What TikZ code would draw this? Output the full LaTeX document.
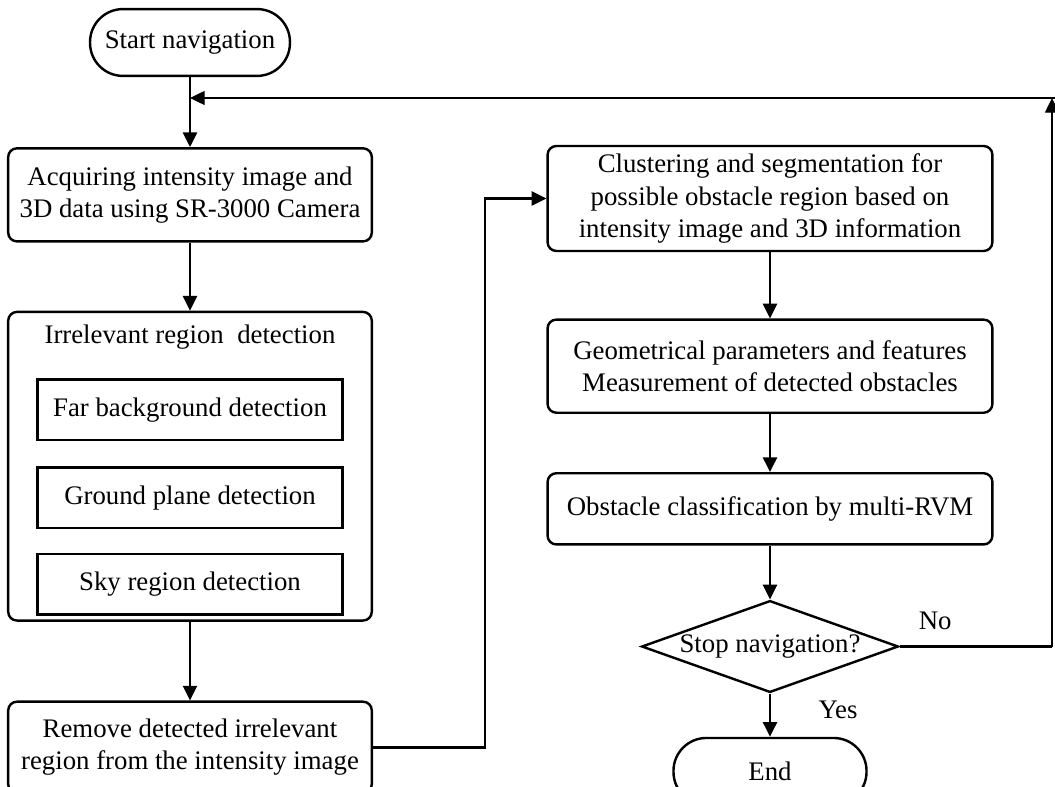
\documentclass[tikz,border=0pt]{standalone}
\usepackage{fontspec}
\setmainfont{Liberation Serif}
\usepackage{tikz}
\usetikzlibrary{positioning, arrows.meta, shapes.geometric}

\begin{document}
\begin{tikzpicture}[
    x=0.016cm, y=-0.016cm,
    font=\fontsize{12.2}{14.6}\selectfont,
    proc/.style={draw, line width=1.1pt, rounded corners=4pt, align=center,
                 minimum width=5.82cm, inner sep=2pt},
    grp/.style={proc, minimum height=4.94cm},
    sub/.style={draw, line width=1.1pt, minimum width=4.88cm, minimum height=0.97cm},
    term/.style={draw, line width=1.1pt, rounded corners=15pt, minimum height=1.07cm},
    dec/.style={draw, line width=1.1pt, diamond, shape aspect=2.8, inner sep=0pt,
                minimum width=4.11cm, minimum height=1.47cm},
    ed/.style={-{Triangle[length=6.7pt, width=6.4pt]}, line width=1.1pt},
    brl/.style={inner sep=0pt},
    hdr/.style={inner sep=0pt}
  ]
  \useasboundingbox (0,0) rectangle (1055,787);
  % ---------------- left column ----------------
  \node[term, minimum width=3.2cm] (start) at (190,42.5) {Start navigation};
  \node[proc, minimum height=1.49cm, below=1.12cm of start] (acq)
    {Acquiring intensity image and\\3D data using SR-3000 Camera};
  \node[grp, below=1.09cm of acq] (irr) {};
  \node[hdr, below=0.22cm of irr.north] (irrT) {Irrelevant region\ \ detection};
  \node[sub, below=0.46cm of irrT] (far) {Far background detection};
  \node[sub, below=0.4cm of far] (ground) {Ground plane detection};
  \node[sub, below=0.37cm of ground] (sky) {Sky region detection};
  \node[proc, minimum height=1.46cm, below=1.26cm of irr] (remove)
    {Remove detected irrelevant\\region from the intensity image};

  % ---------------- right column ----------------
  \node[proc, minimum width=7.12cm, minimum height=1.68cm] (clus) at (770,198.5)
    {Clustering and segmentation for\\possible obstacle region based on\\intensity image and 3D information};
  \node[proc, minimum width=7.12cm, minimum height=1.49cm, below=1.06cm of clus] (geom)
    {Geometrical parameters and features\\Measurement of detected obstacles};
  \node[proc, minimum width=7.12cm, minimum height=1.14cm, below=0.93cm of geom] (obst)
    {Obstacle classification by multi-RVM};
  \node[dec, below=0.86cm of obst] (stop) {Stop navigation?};
  \node[term, minimum width=3.09cm, below=0.69cm of stop] (fin) {End};
  \node[brl, above right=0.26cm and 0.3cm of stop.east] (no) {No};
  \node[brl, below right=0.11cm and 0.77cm of stop.south] (yes) {Yes};

  \coordinate (join) at (190,98);
  \coordinate (bend) at (485,0);
  \coordinate (loopx) at (1052,98);
  \coordinate (loopend) at (1055,98);

  \draw[ed] (start) -- (acq); \draw[ed] (acq) -- (irr);
  \draw[ed] (irr) -- (remove);
  \draw[ed] (remove.east) -- (remove.east -| bend) -- (clus.west -| bend) -- (clus.west);
  \draw[ed] (clus) -- (geom); \draw[ed] (geom) -- (obst);
  \draw[ed] (obst) -- (stop); \draw[ed] (stop) -- (fin);
  \draw[line width=1.1pt] (stop.east) -- (stop.east -| loopx);
  \draw[ed, line width=0.6pt] (stop.east -| loopx) -- (loopx);
  \draw[ed, line width=0.6pt] (loopend) -- (join);
\end{tikzpicture}
\end{document}
